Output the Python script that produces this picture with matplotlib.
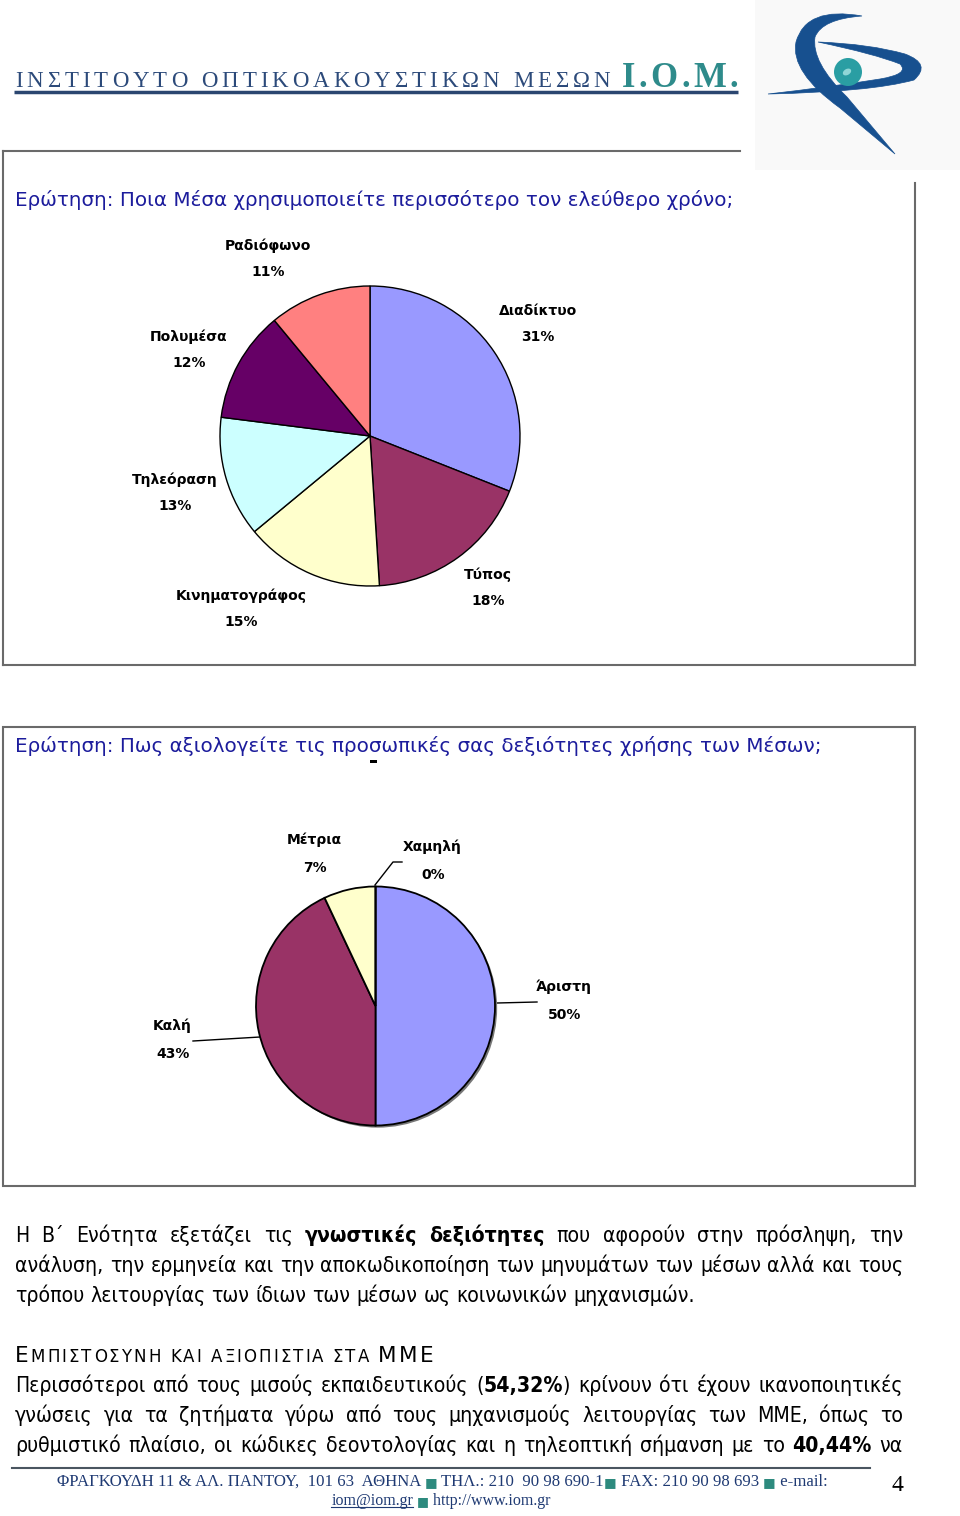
import numpy as np
import matplotlib
matplotlib.use('Agg')
import matplotlib.pyplot as plt
from matplotlib.patches import Rectangle, Circle, Ellipse, PathPatch
from matplotlib.path import Path

# ---------------- data ----------------
media_labels = ['Διαδίκτυο', 'Τύπος', 'Κινηματογράφος', 'Τηλεόραση', 'Πολυμέσα', 'Ραδιόφωνο']
media_pct = [31, 18, 15, 13, 12, 11]
media_colors = ['#9999ff', '#993366', '#ffffcc', '#ccffff', '#660066', '#ff8080']

skill_labels = ['Άριστη', 'Καλή', 'Μέτρια', 'Χαμηλή']
skill_pct = [50, 43, 7, 0]
skill_colors = ['#9999ff', '#993366', '#ffffcc', '#ccffff']

title1 = 'Ερώτηση: Ποια Μέσα χρησιμοποιείτε περισσότερο τον ελεύθερο χρόνο;'
title2 = 'Ερώτηση: Πως αξιολογείτε τις προσωπικές σας δεξιότητες χρήσης των Μέσων;'

header_text = 'ΙΝΣΤΙΤΟΥΤΟ ΟΠΤΙΚΟΑΚΟΥΣΤΙΚΩΝ ΜΕΣΩΝ'
header_abbr = 'Ι.Ο.Μ.'

para1 = [
    'Η Β΄ Ενότητα εξετάζει τις **γνωστικές** **δεξιότητες** που αφορούν στην πρόσληψη, την',
    'ανάλυση, την ερμηνεία και την αποκωδικοποίηση των μηνυμάτων των μέσων αλλά και τους',
    'τρόπου λειτουργίας των ίδιων των μέσων ως κοινωνικών μηχανισμών.',
]
heading2 = [('Ε', 15.5), ('ΜΠΙΣΤΟΣΥΝΗ ΚΑΙ ΑΞΙΟΠΙΣΤΙΑ ΣΤΑ ', 12), ('ΜΜΕ', 15.5)]
para2 = [
    'Περισσότεροι από τους μισούς εκπαιδευτικούς (**54,32%**) κρίνουν ότι έχουν ικανοποιητικές',
    'γνώσεις για τα ζητήματα γύρω από τους μηχανισμούς λειτουργίας των ΜΜΕ, όπως το',
    'ρυθμιστικό πλαίσιο, οι κώδικες δεοντολογίας και η τηλεοπτική σήμανση με το **40,44%** να',
]
footer1 = [('ΦΡΑΓΚΟΥΔΗ 11 & ΑΛ. ΠΑΝΤΟΥ,  101 63  ΑΘΗΝΑ ', 0), ('■', 1), (' ΤΗΛ.: 210  90 98 690-1', 0),
           ('■', 1), (' FAX: 210 90 98 693 ', 0), ('■', 1), (' e-mail:', 0)]
footer2 = [('iom@iom.gr', 2), (' ', 0), ('■', 1), (' http://www.iom.gr', 0)]
page_no = '4'

# ---------------- figure ----------------
W, H = 960, 1516
fig = plt.figure(figsize=(W / 100, H / 100), dpi=100)
fig.patch.set_facecolor('white')
bg = fig.add_axes([0, 0, 1, 1])
bg.set_xlim(0, W)
bg.set_ylim(H, 0)
bg.axis('off')
renderer = fig.canvas.get_renderer()


def width_of(t):
    return t.get_window_extent(renderer=renderer).width


NAVY = '#1c1c9c'
BORDER = '#6a6a6a'


def spread_chars(text, x0, x1, y, space_w=6, **kw):
    chars = list(text)
    objs = [bg.text(0, y, c, va='baseline', ha='left', **kw) for c in chars]
    ws = [width_of(t) if c != ' ' else space_w for t, c in zip(objs, chars)]
    gap = (x1 - x0 - sum(ws)) / (len(chars) - 1)
    x = x0
    for t, w in zip(objs, ws):
        t.set_x(x)
        x += w + gap


# ---------------- header ----------------
bg.add_patch(Rectangle((755, 0), 205, 170, facecolor='#f9f9f9', edgecolor='none', zorder=0))
spread_chars(header_text, 15, 610, 87, fontsize=16.5, family='Liberation Serif', color='#2c4a7a')
spread_chars(header_abbr, 622, 738, 87, fontsize=25, family='Liberation Serif', weight='bold',
             color='#2e8b8b')
bg.plot([14, 738], [92, 92], color='#2b4670', lw=2.5, solid_capstyle='butt')

# logo
LB = '#17508f'
C3, M, L, CL = Path.CURVE3, Path.MOVETO, Path.LINETO, Path.CLOSEPOLY
vA = [(862, 16), (806, 6), (796, 42), (790, 72), (840, 108), (895, 154),
      (847, 97), (811, 62), (815, 37), (822, 19), (862, 16), (862, 16)]
cA = [M, C3, C3, C3, C3, L, L, C3, C3, C3, C3, CL]
bg.add_patch(PathPatch(Path(vA, cA), facecolor=LB, edgecolor=LB, lw=0.5, zorder=2))
vB = [(768, 94), (870, 92), (914, 80), (932, 64), (905, 54), (870, 44), (818, 42),
      (875, 54), (900, 64), (910, 74), (880, 79), (830, 87), (768, 94), (768, 94)]
cB = [M, C3, C3, C3, C3, C3, C3, C3, C3, C3, C3, C3, C3, CL]
bg.add_patch(PathPatch(Path(vB, cB), facecolor=LB, edgecolor=LB, lw=0.5, zorder=3))
bg.add_patch(Circle((848, 72), 14, facecolor='#2a9ea3', edgecolor='none', zorder=4))
bg.add_patch(Ellipse((847, 72), 9, 6, angle=-30, facecolor='#8fd6d6', edgecolor='none', zorder=5))

# ---------------- boxes ----------------
bg.plot([3, 740], [151, 151], color=BORDER, lw=1.5)
bg.plot([3, 3], [151, 665], color=BORDER, lw=1.5)
bg.plot([3, 915], [665, 665], color=BORDER, lw=1.5)
bg.plot([915, 915], [183, 665], color=BORDER, lw=1.5)
bg.add_patch(Rectangle((3, 727), 912, 459, facecolor='none', edgecolor=BORDER, lw=1.5))

bg.text(15, 200, title1, fontsize=14.3, color=NAVY, va='center', ha='left')
bg.text(15, 746, title2, fontsize=14.3, color=NAVY, va='center', ha='left')
bg.add_patch(Rectangle((370, 760), 7, 3, facecolor='black', edgecolor='none'))


# ---------------- pies ----------------
def pie_axes(cx, cy, r, pad=1.06):
    rr = r * pad
    ax = fig.add_axes([(cx - rr) / W, 1 - (cy + rr) / H, 2 * rr / W, 2 * rr / H])
    return ax


ax1 = pie_axes(370, 436, 150)
ax1.pie(media_pct, colors=media_colors, startangle=90, counterclock=False, radius=1,
        wedgeprops=dict(edgecolor='black', linewidth=1))
ax1.set_xlim(-1.06, 1.06)
ax1.set_ylim(-1.06, 1.06)
ax1.set_aspect('equal')
ax1.axis('off')

media_label_pos = {'Διαδίκτυο': (538, 311), 'Τύπος': (488, 575), 'Κινηματογράφος': (241, 596),
                   'Τηλεόραση': (175, 480), 'Πολυμέσα': (189, 337), 'Ραδιόφωνο': (268, 246)}
for name, p in zip(media_labels, media_pct):
    lx, ly = media_label_pos[name]
    bg.text(lx, ly, name, fontsize=10, weight='bold', ha='center', va='center')
    bg.text(lx, ly + 26, f'{p}%', fontsize=10, weight='bold', ha='center', va='center')

ax2 = pie_axes(375.5, 1006, 119.5)
ax2.add_patch(Circle((0.018, -0.018), 1.0, facecolor='#777777', edgecolor='none', zorder=0))
ax2.pie(skill_pct, colors=skill_colors, startangle=90, counterclock=False, radius=1,
        wedgeprops=dict(edgecolor='black', linewidth=1.3))
ax2.set_xlim(-1.06, 1.06)
ax2.set_ylim(-1.06, 1.06)
ax2.set_aspect('equal')
ax2.axis('off')

skill_label_pos = {'Άριστη': (564, 987), 'Καλή': (172, 1026), 'Μέτρια': (314, 840), 'Χαμηλή': (432, 847)}
for name, p in zip(skill_labels, skill_pct):
    lx, ly = skill_label_pos[name]
    bg.text(lx, ly, name, fontsize=10, weight='bold', ha='center', va='center')
    bg.text(lx + 1, ly + 28, f'{p}%', fontsize=10, weight='bold', ha='center', va='center')
# leader lines
bg.plot([497, 537], [1003, 1002], color='black', lw=1)
bg.plot([193, 260], [1041, 1037], color='black', lw=1)
bg.plot([375, 393, 402], [885, 862, 862], color='black', lw=1)


# ---------------- body text ----------------
def parse_words(line):
    words = []
    for w in line.split(' '):
        runs = []
        parts = w.split('**')
        for i, part in enumerate(parts):
            if part:
                runs.append((part, i % 2 == 1))
        words.append(runs)
    return words


BODY_FS = 15.2
BODY_KW = dict(family='DejaVu Sans', fontstretch='condensed')


def space_width(fs, **kw):
    a = bg.text(0, 0, 'x x', fontsize=fs, **kw)
    b = bg.text(0, 0, 'xx', fontsize=fs, **kw)
    w = width_of(a) - width_of(b)
    a.remove(); b.remove()
    return w


SPACE = space_width(BODY_FS, **BODY_KW)


def draw_line(line, y, x0=15, x1=903, justify=True, color='black'):
    words = parse_words(line)
    objs = []
    wws = []
    for runs in words:
        wo = []
        ww = 0
        for txt, bold in runs:
            t = bg.text(0, y, txt, fontsize=BODY_FS, weight='bold' if bold else 'normal',
                        va='baseline', ha='left', color=color, **BODY_KW)
            w = width_of(t)
            wo.append((t, w))
            ww += w
        objs.append(wo)
        wws.append(ww)
    if justify and len(words) > 1:
        g = (x1 - x0 - sum(wws)) / (len(words) - 1)
    else:
        g = SPACE
    x = x0
    for wo, ww in zip(objs, wws):
        xx = x
        for t, w in wo:
            t.set_x(xx)
            xx += w
        x += ww + g


for i, line in enumerate(para1):
    draw_line(line, 1242 + 30 * i, justify=(i < len(para1) - 1))

# heading in small caps: characters spread to the reference's width
hchars = []
for txt, fs in heading2:
    for c in txt:
        hchars.append((c, fs))
hobjs = [bg.text(0, 1362, c, fontsize=fs, va='baseline', ha='left', family='DejaVu Sans')
         for c, fs in hchars]
hws = [width_of(t) if c != ' ' else 5 for t, (c, fs) in zip(hobjs, hchars)]
hgap = max(0.0, (433 - 15 - sum(hws)) / (len(hchars) - 1))
x = 15
for t, w in zip(hobjs, hws):
    t.set_x(x)
    x += w + hgap

for i, line in enumerate(para2):
    draw_line(line, 1392 + 30 * i, justify=True)

# ---------------- footer ----------------
bg.plot([12, 870], [1468, 1468], color='#4a5560', lw=1.5)
FOOT = '#1f3a73'
SQ = '#2d8a7e'


def draw_runs(runs, y, xc=None, x0=None, x1=None, fs=11.5):
    objs = []
    for txt, kind in runs:
        if kind == 1:
            t = bg.text(0, y, txt, fontsize=fs * 0.8, family='DejaVu Sans', color=SQ, va='baseline')
        else:
            t = bg.text(0, y, txt, fontsize=fs, family='Liberation Serif', color=FOOT, va='baseline')
        objs.append((t, kind))
    ws_ = [width_of(t) for t, _ in objs]
    tot = sum(ws_)
    if x0 is not None and x1 is not None:
        scale = (x1 - x0) / tot
        for (t, k) in objs:
            t.set_fontsize(t.get_fontsize() * scale)
        ws_ = [width_of(t) for t, _ in objs]
        tot = sum(ws_)
        start = x0
    else:
        start = xc - tot / 2
    xx = start
    for (t, k), w in zip(objs, ws_):
        t.set_x(xx)
        if k == 2:
            bg.plot([xx, xx + w], [y + 2, y + 2], color=FOOT, lw=0.8)
        xx += w


draw_runs(footer1, 1486, x0=57, x1=825)
draw_runs(footer2, 1505, xc=441, fs=11.5)
bg.text(897, 1491, page_no, fontsize=17, family='Liberation Serif', color='black',
        ha='center', va='baseline')

fig.savefig('out.png', dpi=100, facecolor='white')
